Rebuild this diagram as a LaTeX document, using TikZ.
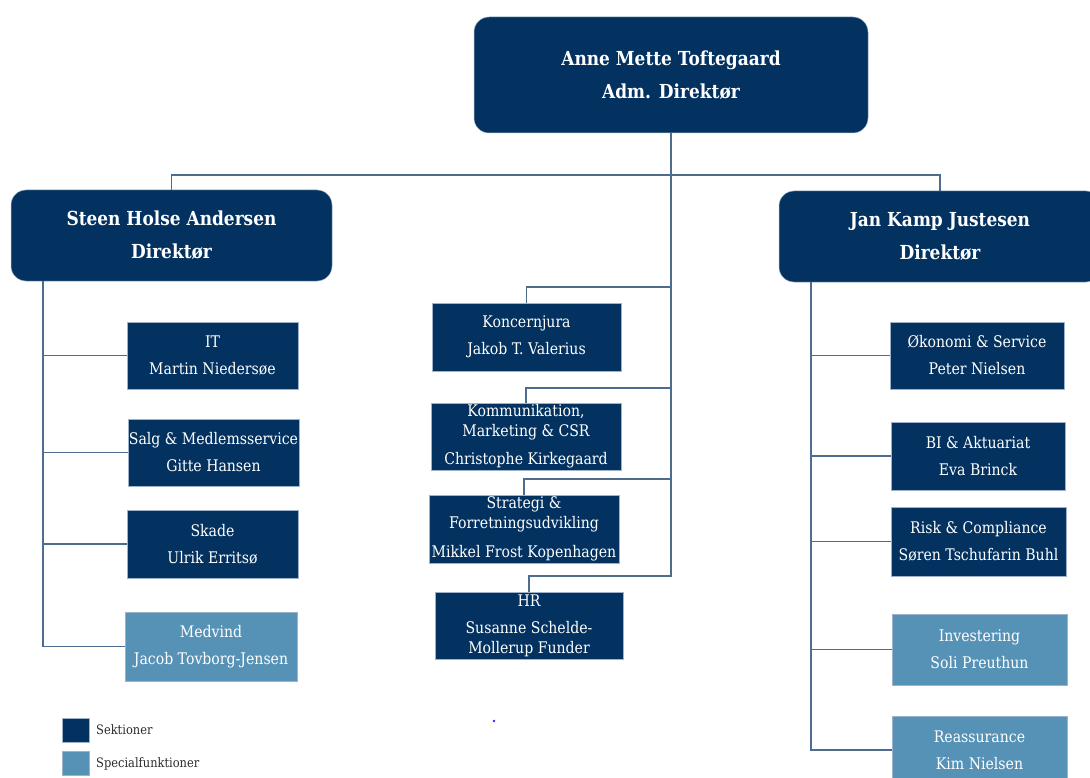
\documentclass[tikz,border=0pt]{standalone}
\usepackage{fontspec}
\setmainfont[FakeStretch=0.88]{DejaVu Serif}
\usetikzlibrary{calc}
\definecolor{navy}{HTML}{033260}
\definecolor{steel}{HTML}{5691B6}
\definecolor{linkc}{HTML}{4E6C8E}
\definecolor{edgec}{HTML}{9DB3CB}
\definecolor{legendtext}{HTML}{2B2B2B}

\tikzset{
  headbox/.style={fill=navy, draw=edgec, line width=0.5pt, rounded corners=15pt,
    text=white, align=center, inner sep=0pt,
    font=\fontsize{19.3}{33}\selectfont\bfseries},
  unitbox/.style={fill=navy, draw=edgec, line width=0.5pt, text=white,
    align=center, inner sep=0pt, font=\fontsize{16}{20}\selectfont},
  specbox/.style={unitbox, fill=steel},
  link/.style={draw=linkc, line width=1.6pt},
  keybox/.style={draw=edgec, line width=0.5pt, inner sep=0pt,
    minimum width=27pt, minimum height=24pt},
  keytext/.style={anchor=west, inner sep=0pt, text=legendtext,
    font=\fontsize{13}{15}\selectfont},
}

\begin{document}
\begin{tikzpicture}[x=1pt, y=-1pt]
\useasboundingbox (0,0) rectangle (1090,778);
\clip (0,0) rectangle (1090,778);

% management
\node[headbox, minimum width=394, minimum height=116] (top) at (671,75)
  {Anne Mette Toftegaard\\Adm. Direktør};
\node[headbox, minimum width=321, minimum height=91] (steen) at (171.5,235.5)
  {Steen Holse Andersen\\Direktør};
\node[headbox, minimum width=322, minimum height=91] (jan) at (940,236.5)
  {Jan Kamp Justesen\\Direktør};

% left column
\node[unitbox, minimum width=171, minimum height=67] (it) at (212.5,355.5)
  {IT\\[7pt]Martin Niedersøe};
\node[unitbox, minimum width=171, minimum height=67] (salg) at (213.5,452.5)
  {Salg \& Medlemsservice\\[7pt]Gitte Hansen};
\node[unitbox, minimum width=171, minimum height=68] (skade) at (212.5,544)
  {Skade\\[7pt]Ulrik Erritsø};
\node[specbox, minimum width=172, minimum height=69] (medvind) at (211,646.5)
  {Medvind\\[7pt]Jacob Tovborg-Jensen};

% staff functions
\node[unitbox, minimum width=189, minimum height=68] (konc) at (526.5,337)
  {Koncernjura\\[7pt]Jakob T. Valerius};
\node[unitbox, minimum width=190, minimum height=67] (komm) at (526,436.5)
  {Kommunikation,\\Marketing \& CSR\\[8pt]Christophe Kirkegaard};
\node[unitbox, minimum width=190, minimum height=68] (strat) at (524,529)
  {Strategi \&\\Forretningsudvikling\\[9pt]Mikkel Frost Kopenhagen};
\node[unitbox, minimum width=188, minimum height=67] (hr) at (529,625.5)
  {HR\\[7pt]Susanne Schelde-\\Mollerup Funder};

% right column
\node[unitbox, minimum width=174, minimum height=67] (okon) at (977,355.5)
  {Økonomi \& Service\\[7pt]Peter Nielsen};
\node[unitbox, minimum width=174, minimum height=68] (bi) at (978,456)
  {BI \& Aktuariat\\[7pt]Eva Brinck};
\node[unitbox, minimum width=175, minimum height=69] (risk) at (978.5,541.5)
  {Risk \& Compliance\\[7pt]Søren Tschufarin Buhl};
\node[specbox, minimum width=175, minimum height=71] (inv) at (979.5,649.5)
  {Investering\\[7pt]Soli Preuthun};
\node[specbox, minimum width=175, minimum height=68] (reas) at (979.5,750)
  {Reassurance\\[7pt]Kim Nielsen};

% connectors: management level
\coordinate (hub) at (top.south |- 0,175);
\draw[link] (steen.north) |- (hub) -| (jan.north);
\draw[link] (top.south) |- ($(hr.north)+(0,-16)$) -- (hr.north);
\draw[link] (konc.north) -- ++(0,-16) -| (top.south);
\draw[link] (komm.north) -- ++(0,-15) -| (top.south);
\draw[link] (strat.north) -- ++(0,-16) -| (top.south);

% connectors: left column
\coordinate (lspine) at (steen.south -| 43,0);
\draw[link] (lspine) |- (medvind.west);
\draw[link] (it.west) -- (it.west -| lspine);
\draw[link] (salg.west) -- (salg.west -| lspine);
\draw[link] (skade.west) -- (skade.west -| lspine);

% connectors: right column
\coordinate (rspine) at (jan.south -| 811,0);
\draw[link] (rspine) |- (reas.west);
\draw[link] (okon.west) -- (okon.west -| rspine);
\draw[link] (bi.west) -- (bi.west -| rspine);
\draw[link] (risk.west) -- (risk.west -| rspine);
\draw[link] (inv.west) -- (inv.west -| rspine);

% legend
\node[keybox, fill=navy] (k1) at (75.5,730) {};
\node[keybox, fill=steel] (k2) at (75.5,763.5) {};
\node[keytext] (k1t) at (96,730) {Sektioner};
\node[keytext] (k2t) at (96,763.5) {Specialfunktioner};

% stray dot
\fill[blue!85] (494,721) circle (1.3);
\end{tikzpicture}
\end{document}
